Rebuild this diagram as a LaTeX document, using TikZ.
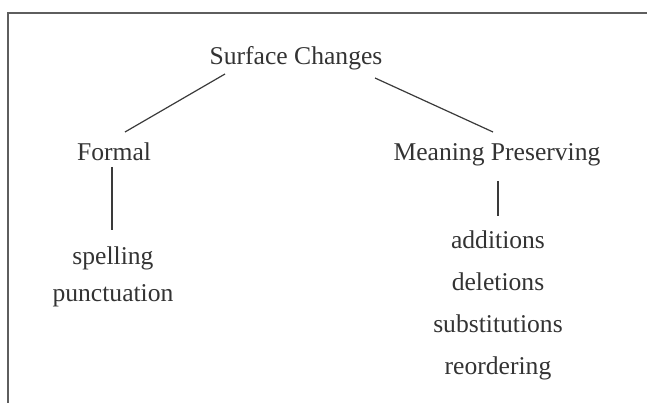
\documentclass[tikz,border=0pt]{standalone}
\usepackage{fontspec}
\setmainfont{Liberation Serif}
\definecolor{txt}{HTML}{333333}
\definecolor{ln}{HTML}{3A3A3A}
\definecolor{frm}{HTML}{5E5E5E}
\begin{document}
\begin{tikzpicture}[x=1pt,y=-1pt,
  lbl/.style={anchor=base,inner sep=0pt,text=txt,font=\fontsize{25.6}{30}\selectfont},
  conn/.style={draw=ln,line width=1.2pt},
  frame/.style={draw=frm,line width=1.8pt}]
\useasboundingbox (0,0) rectangle (647,403);
% frame (top and left only)
\coordinate (fTR) at (647,13);
\coordinate (fTL) at (8,13);
\coordinate (fBL) at (8,403);
\draw[frame] (fTR) -- (fTL) -- (fBL);
% nodes
\node[lbl] (sc) at (296,65) {Surface Changes};
\node[lbl] (fm) at (114,161) {Formal};
\node[lbl] (mp) at (497,161) {Meaning Preserving};
\node[lbl] (sp) at (113,264) {spelling};
\node[lbl] (pu) at (113,301) {punctuation};
\node[lbl] (ad) at (498,248) {additions};
\node[lbl] (de) at (498,290) {deletions};
\node[lbl] (su) at (498,332) {substitutions};
\node[lbl] (re) at (498,374) {reordering};
% connector end points
\coordinate (scL) at (225,74);
\coordinate (scR) at (375,78);
\coordinate (fmT) at (125,132);
\coordinate (mpT) at (493,132);
\coordinate (fmB) at (112,167);
\coordinate (spT) at (112,230);
\coordinate (mpB) at (498,181);
\coordinate (adT) at (498,216);
\draw[conn] (scL) -- (fmT);
\draw[conn] (scR) -- (mpT);
\draw[conn] (fmB) -- (spT);
\draw[conn] (mpB) -- (adT);
\end{tikzpicture}
\end{document}
